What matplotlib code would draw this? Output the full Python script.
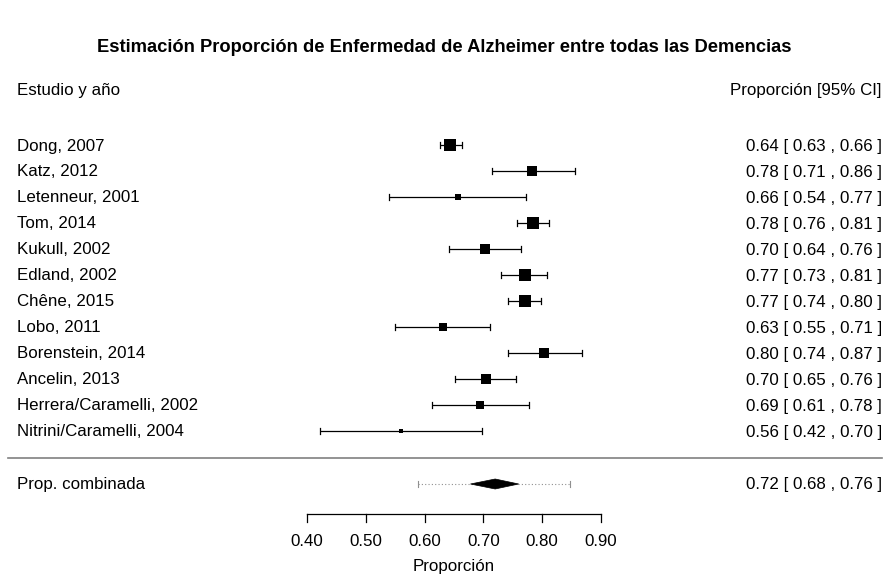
import matplotlib
matplotlib.use("Agg")
import matplotlib.pyplot as plt
from matplotlib.patches import Polygon

plt.rcParams['font.family'] = ['Liberation Sans', 'DejaVu Sans']

studies = ["Dong, 2007", "Katz, 2012", "Letenneur, 2001", "Tom, 2014", "Kukull, 2002",
           "Edland, 2002", "Chêne, 2015", "Lobo, 2011", "Borenstein, 2014", "Ancelin, 2013",
           "Herrera/Caramelli, 2002", "Nitrini/Caramelli, 2004"]
est = [0.644, 0.783, 0.657, 0.784, 0.703, 0.770, 0.771, 0.631, 0.803, 0.704, 0.694, 0.560]
lower = [0.627, 0.714, 0.540, 0.757, 0.641, 0.730, 0.741, 0.550, 0.742, 0.652, 0.613, 0.422]
upper = [0.664, 0.856, 0.772, 0.812, 0.764, 0.808, 0.798, 0.711, 0.867, 0.756, 0.778, 0.698]
weights = [9.3, 8.2, 6.8, 9.3, 8.5, 8.8, 9.1, 7.7, 8.4, 8.6, 7.9, 6.0]

pooled_est, pooled_lb, pooled_ub = 0.720, 0.678, 0.760
pred_lb, pred_ub = 0.589, 0.847
pooled_label = "Prop. combinada"

xticks = [0.40, 0.50, 0.60, 0.70, 0.80, 0.90]

W, H = 889, 577
fig = plt.figure(figsize=(W / 100, H / 100), dpi=100)
ax = fig.add_axes([0, 0, 1, 1])
ax.set_axis_off()
# pixel mapping: 0.40 -> 307 px, 0.10 per 58.8 px
x0px, scale = 307.0, 588.0
ax.set_xlim(0.40 - x0px / scale, 0.40 + (W - x0px) / scale)
ax.set_ylim(H, 0)

def px2x(p):
    return 0.40 + (p - x0px) / scale

fs = 12.2
row0, step = 145, 26
left_x = px2x(17)
right_x = px2x(882)
tick_h = 3

wmin, wmax = min(weights), max(weights)
for i, (name, e, lo, hi, w) in enumerate(zip(studies, est, lower, upper, weights)):
    y = row0 + i * step
    ax.plot([lo, hi], [y, y], color='black', lw=0.9, solid_capstyle='butt')
    ax.plot([lo, lo], [y - tick_h, y + tick_h], color='black', lw=0.9)
    ax.plot([hi, hi], [y - tick_h, y + tick_h], color='black', lw=0.9)
    side = 4 + (w - wmin) / (wmax - wmin) * 8.5
    ax.scatter([e], [y], marker='s', s=(side * 0.72) ** 2, color='black', linewidths=0, zorder=3)
    ax.text(left_x, y + 1, name, ha='left', va='center', fontsize=fs)
    ax.text(right_x, y + 1, f"{e:.2f} [ {lo:.2f} , {hi:.2f} ]", ha='right', va='center', fontsize=fs)

# headers
ax.text(left_x, 91, "Estudio y año", ha='left', va='center', fontsize=fs)
ax.text(right_x, 91, "Proporción [95% CI]", ha='right', va='center', fontsize=fs)

# title
ax.text(px2x(444), 48, "Estimación Proporción de Enfermedad de Alzheimer entre todas las Demencias",
        ha='center', va='center', fontsize=13.2, fontweight='bold')

# separator
ax.plot([px2x(8), px2x(882)], [458, 458], color='#808080', lw=1.2)

# pooled
yp = 484
ax.plot([pred_lb, pred_ub], [yp, yp], color='#909090', lw=0.8, ls=(0, (1, 2)))
ax.plot([pred_lb, pred_lb], [yp - tick_h, yp + tick_h], color='#909090', lw=0.8)
ax.plot([pred_ub, pred_ub], [yp - tick_h, yp + tick_h], color='#909090', lw=0.8)
ax.add_patch(Polygon([[pooled_lb, yp], [pooled_est, yp - 5], [pooled_ub, yp], [pooled_est, yp + 5]],
                     closed=True, facecolor='black', edgecolor='black', lw=0.5, zorder=3))
ax.text(left_x, yp + 1, pooled_label, ha='left', va='center', fontsize=fs)
ax.text(right_x, yp + 1, f"{pooled_est:.2f} [ {pooled_lb:.2f} , {pooled_ub:.2f} ]",
        ha='right', va='center', fontsize=fs)

# x axis
ya = 514
ax.plot([xticks[0], xticks[-1]], [ya, ya], color='black', lw=0.9)
for t in xticks:
    ax.plot([t, t], [ya, ya + 8], color='black', lw=0.9)
    ax.text(t, 542, f"{t:.2f}", ha='center', va='center', fontsize=fs)
ax.text(px2x(454), 566, "Proporción", ha='center', va='center', fontsize=fs)

fig.savefig("out.png", dpi=100)
